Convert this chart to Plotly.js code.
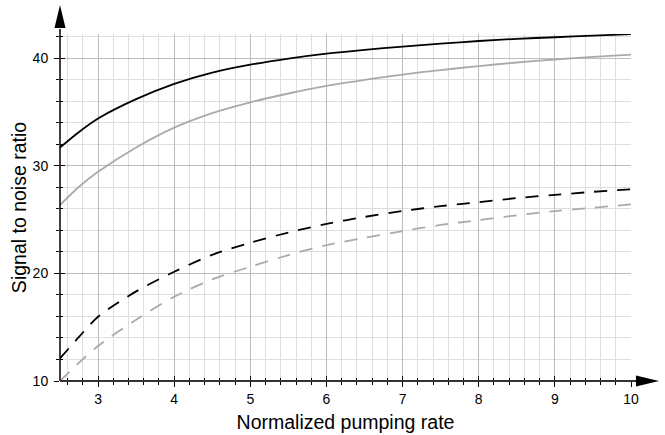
<!DOCTYPE html>
<html>
<head>
<meta charset="utf-8">
<script src="https://cdn.plot.ly/plotly-3.0.1.min.js"></script>
<style>
  html, body { margin: 0; padding: 0; background: #fff; }
  #chart { width: 665px; height: 435px; }
</style>
</head>
<body>
<div id="chart"></div>
<script>
// ---- Data ----
const pumpingRate = [2.5, 2.75, 3, 3.5, 4, 4.5, 5, 5.5, 6, 6.5, 7, 7.5, 8, 8.5, 9, 9.5, 10];
const blackSolid  = [31.7, 33.15, 34.4, 36.2, 37.62, 38.67, 39.4, 39.97, 40.43, 40.78, 41.08, 41.35, 41.6, 41.8, 41.95, 42.1, 42.23];
const graySolid   = [26.35, 28.05, 29.44, 31.7, 33.55, 34.9, 35.9, 36.72, 37.43, 37.98, 38.48, 38.9, 39.27, 39.6, 39.88, 40.12, 40.34];
const blackDashed = [12.1, 14.1, 15.97, 18.33, 20.15, 21.73, 22.85, 23.8, 24.6, 25.25, 25.8, 26.25, 26.62, 27.0, 27.3, 27.58, 27.82];
const grayDashed  = [10.0, 11.7, 13.25, 15.7, 17.83, 19.44, 20.62, 21.7, 22.63, 23.3, 23.93, 24.5, 24.95, 25.4, 25.79, 26.1, 26.41];

const xTickVals = [3, 4, 5, 6, 7, 8, 9, 10];
const yTickVals = [10, 20, 30, 40];
const xTitle = "Normalized pumping rate";
const yTitle = "Signal to noise ratio";

// ---- Layout geometry ----
const W = 665, H = 435;
const M = { l: 60, r: 34, t: 34, b: 54 };
const pw = W - M.l - M.r, ph = H - M.t - M.b;
const px2x = p => (p - M.l) / pw;
const py2y = p => (H - M.b - p) / ph;

const FONT = "Liberation Sans, Arial, Helvetica, sans-serif";
const BLACK = "#000000", GRAY = "#aaaaaa";

function curve(y, color, dash, width) {
  return {
    x: pumpingRate, y: y, type: "scatter", mode: "lines",
    line: { color: color, width: width, dash: dash, shape: "spline", smoothing: 0.8 },
    hoverinfo: "skip", showlegend: false
  };
}

const traces = [
  curve(graySolid, GRAY, "solid", 1.8),
  curve(blackSolid, BLACK, "solid", 1.8),
  curve(grayDashed, GRAY, "13px,10px", 1.8),
  curve(blackDashed, BLACK, "13px,10px", 1.8),
  // dummy trace so the overlay (inside-tick) axes get drawn
  { x: [pumpingRate[0]], y: [yTickVals[0]], xaxis: "x2", yaxis: "y2", type: "scatter",
    mode: "markers", marker: { opacity: 0 }, hoverinfo: "skip", showlegend: false }
];

const xr = [2.5, 10], yr = [10, 42.25];

const axisCommon = { showline: false, zeroline: false, fixedrange: true };

const layout = {
  width: W, height: H,
  margin: M,
  paper_bgcolor: "#ffffff", plot_bgcolor: "#ffffff",
  font: { family: FONT, size: 14, color: "#000" },
  showlegend: false,
  xaxis: Object.assign({}, axisCommon, {
    range: xr, tickvals: xTickVals, ticktext: xTickVals.map(String),
    ticks: "outside", ticklen: 5, tickwidth: 1, tickcolor: "#000",
    showgrid: true, gridcolor: "#bdbdbd", gridwidth: 1,
    minor: { dtick: 0.2, tick0: 0, ticks: "outside", ticklen: 3, tickwidth: 1, tickcolor: "#000",
             showgrid: true, gridcolor: "#dedede", gridwidth: 1 },
    tickfont: { size: 14, family: FONT, color: "#000" },
    ticklabelstandoff: 0,
    title: { text: xTitle, font: { size: 19.5, family: FONT, color: "#000" }, standoff: 9 },
    automargin: false
  }),
  yaxis: Object.assign({}, axisCommon, {
    range: yr, tickvals: yTickVals, ticktext: yTickVals.map(String),
    ticks: "outside", ticklen: 5, tickwidth: 1, tickcolor: "#000",
    showgrid: true, gridcolor: "#bdbdbd", gridwidth: 1,
    minor: { dtick: 2, tick0: 0, ticks: "outside", ticklen: 3, tickwidth: 1, tickcolor: "#000",
             showgrid: true, gridcolor: "#dedede", gridwidth: 1 },
    tickfont: { size: 14, family: FONT, color: "#000" },
    ticklabelstandoff: 3,
    title: { text: yTitle, font: { size: 19.5, family: FONT, color: "#000" }, standoff: 0 },
    automargin: false
  }),
  xaxis2: Object.assign({}, axisCommon, {
    range: xr, overlaying: "x", anchor: "y2", side: "bottom",
    tickvals: xTickVals, ticks: "inside", ticklen: 5, tickwidth: 1, tickcolor: "#000",
    showticklabels: false, showgrid: false,
    minor: { dtick: 0.2, tick0: 0, ticks: "inside", ticklen: 3, tickwidth: 1, tickcolor: "#000", showgrid: false }
  }),
  yaxis2: Object.assign({}, axisCommon, {
    range: yr, overlaying: "y", anchor: "x2", side: "left",
    tickvals: yTickVals, ticks: "inside", ticklen: 5, tickwidth: 1, tickcolor: "#000",
    showticklabels: false, showgrid: false,
    minor: { dtick: 2, tick0: 0, ticks: "inside", ticklen: 3, tickwidth: 1, tickcolor: "#000", showgrid: false }
  }),
  shapes: []
};

// Axis lines with arrowheads (decoration, in paper coordinates from pixel geometry)
const axisY0 = H - M.b;   // pixel row of the x axis
const axisX0 = M.l;       // pixel column of the y axis
const yArrowTip = 5, yArrowBase = 28, halfW = 5.5;
const xArrowTip = 659, xArrowBase = 636;

layout.shapes.push({
  type: "line", xref: "paper", yref: "paper", layer: "above",
  x0: px2x(axisX0), x1: px2x(axisX0), y0: py2y(axisY0), y1: py2y(yArrowBase + 1),
  line: { color: "#000", width: 1.5 }
});
layout.shapes.push({
  type: "line", xref: "paper", yref: "paper", layer: "above",
  x0: px2x(axisX0), x1: px2x(xArrowBase + 1), y0: py2y(axisY0), y1: py2y(axisY0),
  line: { color: "#333", width: 2 }
});
layout.shapes.push({
  type: "path", xref: "paper", yref: "paper", layer: "above",
  path: "M " + px2x(axisX0) + " " + py2y(yArrowTip) +
        " L " + px2x(axisX0 - halfW) + " " + py2y(yArrowBase) +
        " L " + px2x(axisX0 + halfW) + " " + py2y(yArrowBase) + " Z",
  fillcolor: "#000", line: { width: 0 }
});
layout.shapes.push({
  type: "path", xref: "paper", yref: "paper", layer: "above",
  path: "M " + px2x(xArrowTip) + " " + py2y(axisY0) +
        " L " + px2x(xArrowBase) + " " + py2y(axisY0 - halfW) +
        " L " + px2x(xArrowBase) + " " + py2y(axisY0 + halfW) + " Z",
  fillcolor: "#000", line: { width: 0 }
});

Plotly.newPlot("chart", traces, layout, { staticPlot: true, displayModeBar: false });
</script>
</body>
</html>
